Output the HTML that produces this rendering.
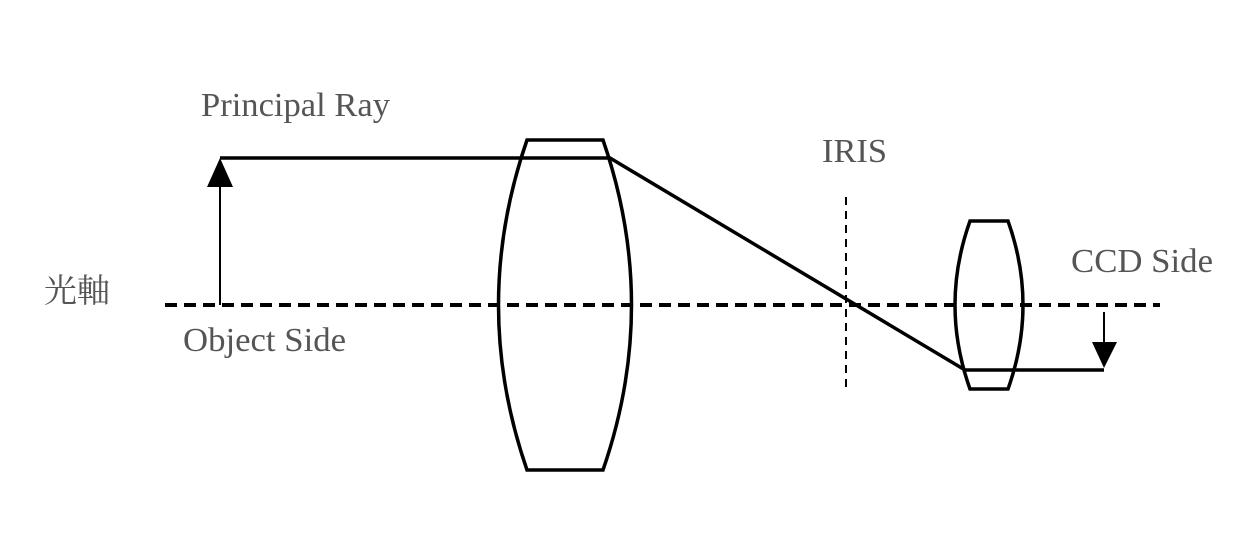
<!DOCTYPE html>
<html><head><meta charset="utf-8"><style>html,body{margin:0;padding:0;background:#fff}svg{display:block}</style></head>
<body>
<svg width="1250" height="560" viewBox="0 0 1250 560" xmlns="http://www.w3.org/2000/svg">
<rect width="1250" height="560" fill="#fff"/>
<g font-family="'Liberation Serif','Noto Serif CJK SC',serif" font-size="34" fill="#555">
<text x="201" y="116" textLength="189" lengthAdjust="spacingAndGlyphs">Principal Ray</text>
<text x="822" y="162" textLength="65" lengthAdjust="spacingAndGlyphs">IRIS</text>
<text x="1071" y="272" textLength="142" lengthAdjust="spacingAndGlyphs">CCD Side</text>
<text x="183" y="351" textLength="163" lengthAdjust="spacingAndGlyphs">Object Side</text>
<text x="44" y="302" font-family="'Noto Serif CJK SC','Noto Sans CJK SC',serif" font-size="33">光軸</text>
</g>
<line x1="165" y1="305" x2="1160" y2="305" stroke="#000" stroke-width="4" stroke-dasharray="12,7"/>
<line x1="846" y1="197" x2="846" y2="390" stroke="#000" stroke-width="2" stroke-dasharray="8,6"/>
<line x1="220" y1="305" x2="220" y2="180" stroke="#000" stroke-width="2"/>
<polygon points="220,158 207,187 233,187" fill="#000"/>
<path d="M527,140 L603,140 Q660,305 603,470 L527,470 Q470,305 527,140 Z" fill="none" stroke="#000" stroke-width="3.5"/>
<path d="M970,221 L1008,221 Q1038,305 1008,389 L970,389 Q940,305 970,221 Z" fill="none" stroke="#000" stroke-width="3.5"/>
<polyline points="220,158 610,158 965,370 1104,370" fill="none" stroke="#000" stroke-width="3.5"/>
<line x1="1104" y1="312" x2="1104" y2="345" stroke="#000" stroke-width="2"/>
<polygon points="1104,368 1092,342 1117,342" fill="#000"/>
</svg>
</body></html>
